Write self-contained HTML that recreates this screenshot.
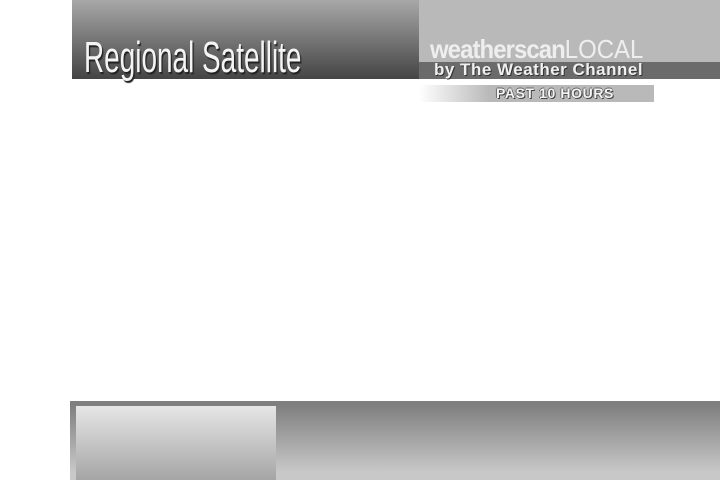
<!DOCTYPE html>
<html><head><meta charset="utf-8"><style>
html,body{margin:0;padding:0;width:720px;height:480px;background:#fff;overflow:hidden;position:relative;font-family:"Liberation Sans",sans-serif}
div{position:absolute}
</style></head><body>
<div style="left:72px;top:0;width:347px;height:79px;background:linear-gradient(#a8a8a8,#444)"></div>
<div style="left:84px;top:34px;width:400px;height:48px;font-size:44px;color:#f4f4f4;text-shadow:2px 2px 1px #222;transform:scaleX(0.635);transform-origin:left top;line-height:48px;white-space:nowrap">Regional Satellite</div>
<div style="left:419px;top:0;width:301px;height:62px;background:#b9b9b9"></div>
<div style="left:430px;top:35px;height:28px;line-height:28px;font-size:26px;color:#eee;white-space:nowrap;transform:scaleX(0.92);transform-origin:left top"><b style="letter-spacing:-1px">weatherscan</b><span style="font-weight:normal">LOCAL</span></div>
<div style="left:419px;top:62px;width:301px;height:17px;background:#6b6b6b"></div>
<div style="left:434px;top:60px;height:20px;line-height:20px;font-size:17px;letter-spacing:0.5px;font-weight:bold;color:#f0f0f0;text-shadow:1px 1px 0 #333;white-space:nowrap">by The Weather Channel</div>
<div style="left:419px;top:85px;width:235px;height:17px;background:linear-gradient(90deg,#fff 0%,#b9b9b9 30%,#b9b9b9 100%)"></div>
<div style="left:419px;top:85px;width:272px;text-align:center;height:17px;line-height:17px;font-size:14px;letter-spacing:0.6px;font-weight:bold;color:#f4f4f4;text-shadow:1px 1px 0 #444,-1px 0 0 #666,0 -1px 0 #666;white-space:nowrap">PAST 10 HOURS</div>
<div style="left:70px;top:401px;width:650px;height:79px;background:linear-gradient(#7f7f7f 5%,#c8c8c8 90%)"></div>
<div style="left:76px;top:406px;width:200px;height:74px;background:linear-gradient(#e6e6e6,#a5a5a5)"></div>
</body></html>
